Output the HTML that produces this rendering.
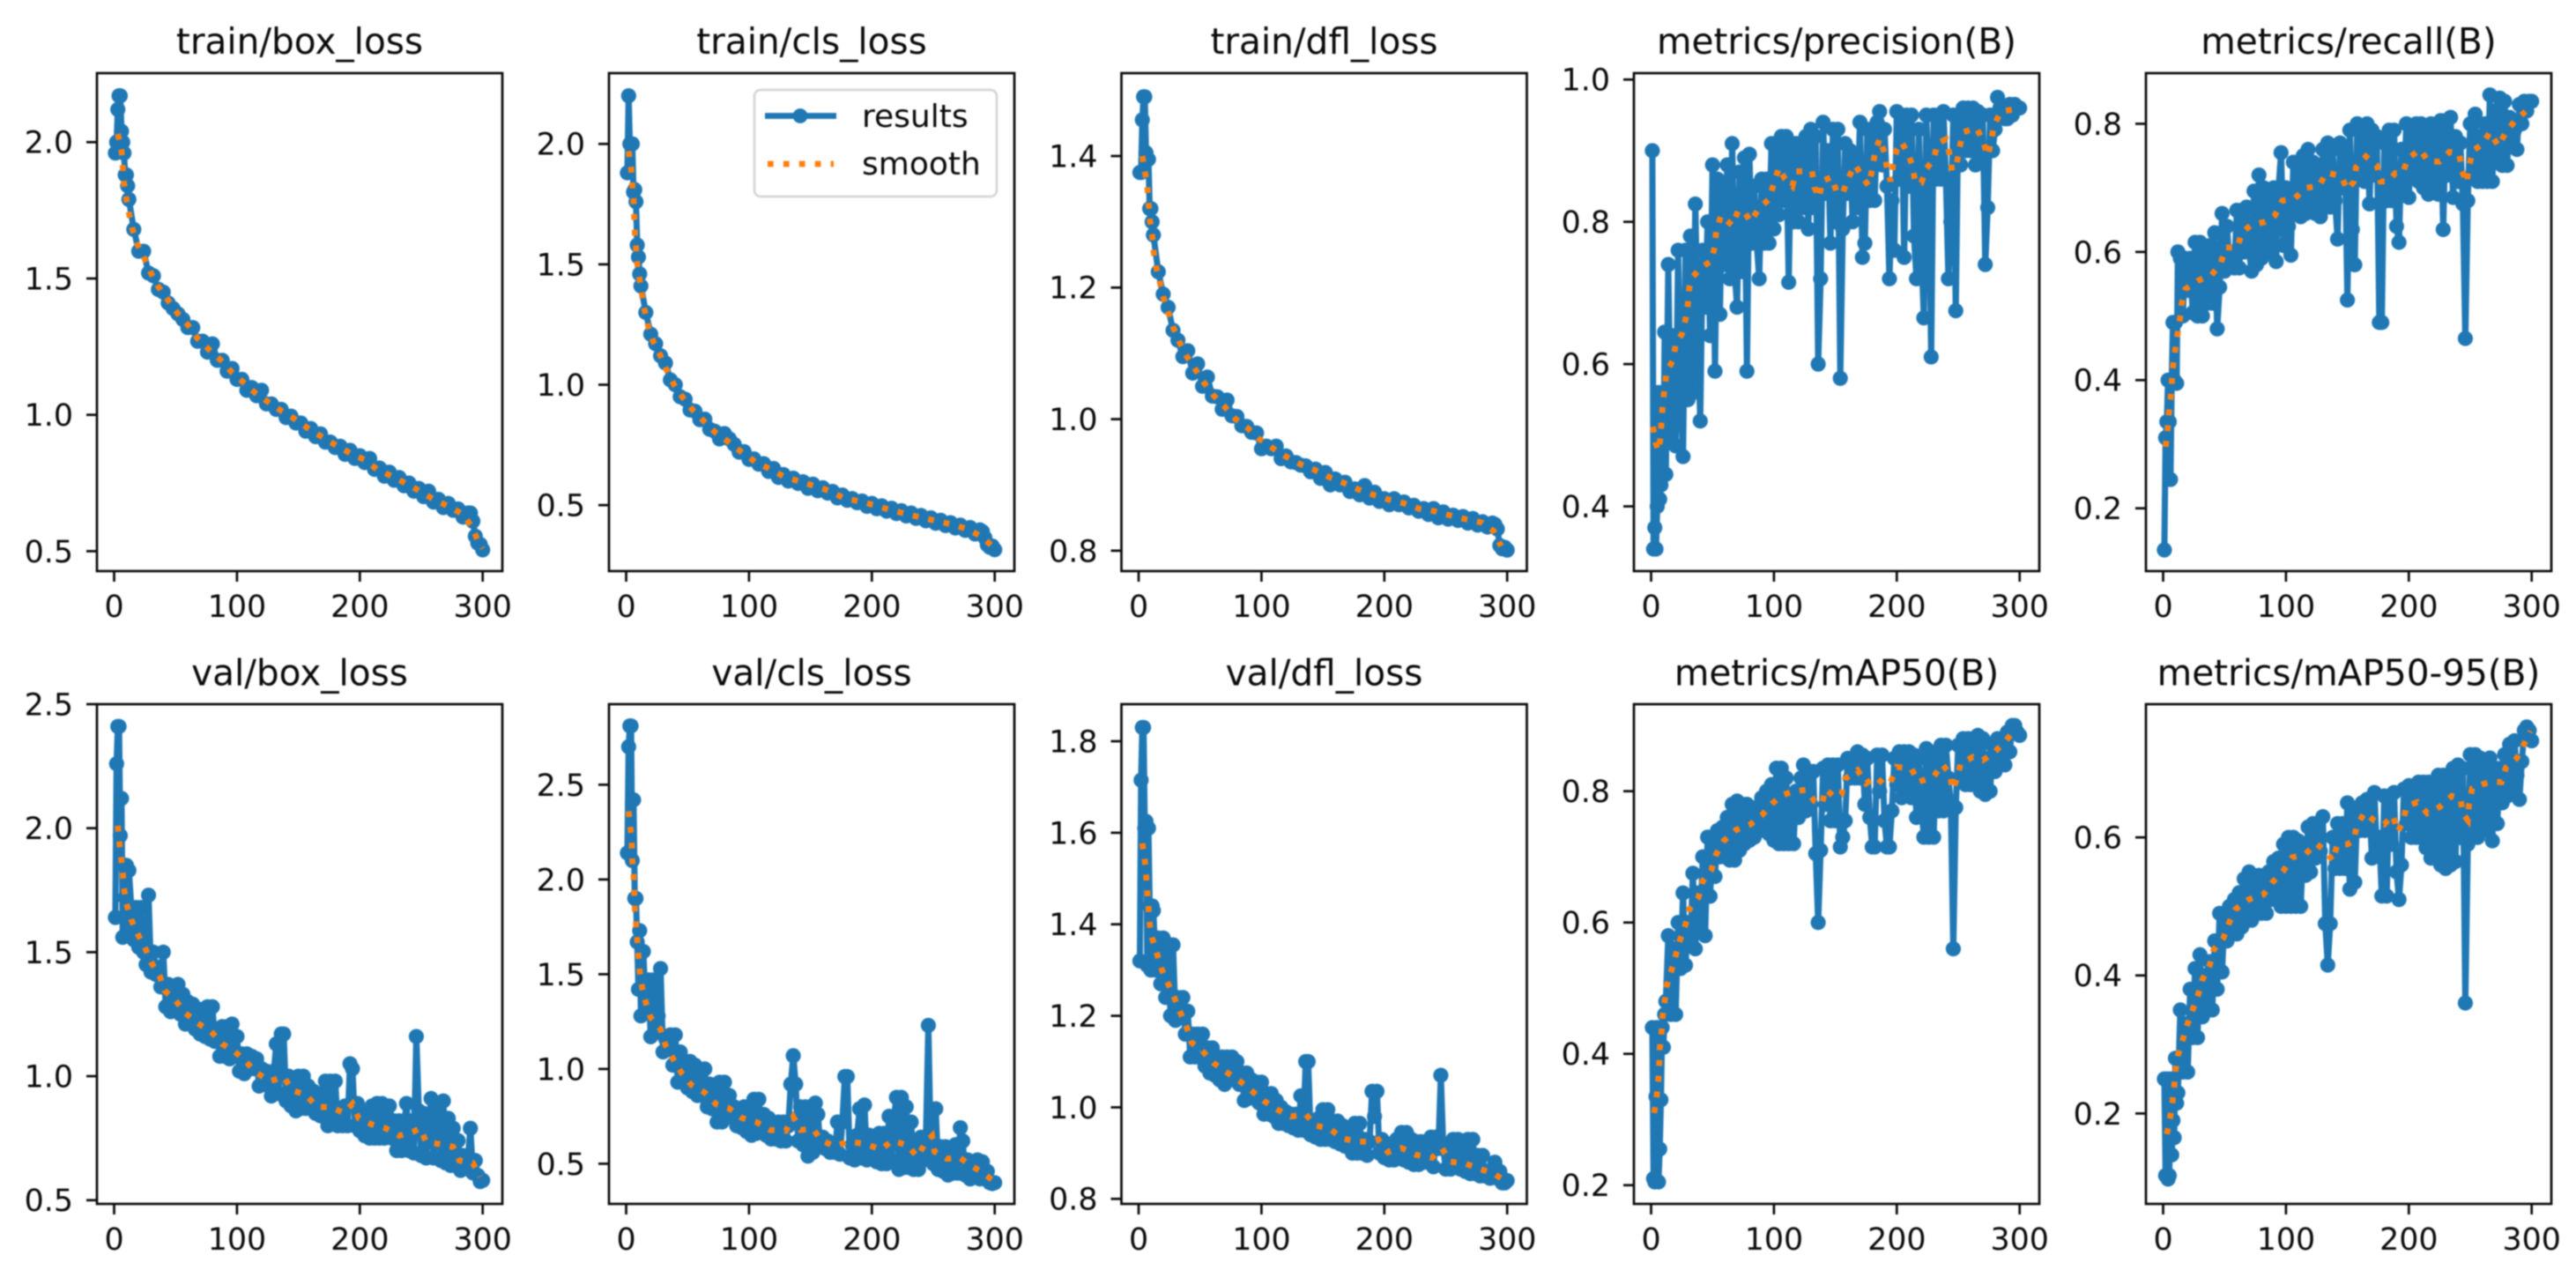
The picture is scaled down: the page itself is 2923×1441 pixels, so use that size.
<!DOCTYPE html>
<html lang="en">
<head>
<meta charset="utf-8">
<title>Training results</title>
<style>
html,body{margin:0;padding:0;background:#fff;}
#figure{display:block;width:2923px;height:1441px;background:#fff;filter:blur(0.7px);}
text{font-family:"DejaVu Sans","Liberation Sans",sans-serif;fill:#0a0a0a;}
</style>
</head>
<body>
<svg id="figure" xmlns="http://www.w3.org/2000/svg" width="2923" height="1441" viewBox="0 0 2923 1441"></svg>
<script>
const trainEpochs = [1,2,3,4,5,6,7,8,9,10,11,12,
16,20,24,28,32,36,40,44,48,52,
56,60,64,68,72,76,80,84,88,92,
96,100,104,108,112,116,120,124,128,132,
136,140,144,148,152,156,160,164,168,172,
176,180,184,188,192,196,200,204,208,212,
216,220,224,228,232,236,240,244,248,252,
256,260,264,268,272,276,280,284,288,
290,292,294,296,298,300];

const denseEpochs = [1,2,3,4,5,6,7,8,9,10,11,12,
14,16,18,20,22,24,26,28,30,32,
34,36,38,40,42,44,46,48,50,52,
54,56,58,60,62,64,66,68,70,72,
74,76,78,80,82,84,86,88,90,92,
94,96,98,100,102,104,106,108,110,112,
114,116,118,120,122,124,126,128,130,132,
134,136,138,140,142,144,146,148,150,152,
154,156,158,160,162,164,166,168,170,172,
174,176,178,180,182,184,186,188,190,192,
194,196,198,200,202,204,206,208,210,212,
214,216,218,220,222,224,226,228,230,232,
234,236,238,240,242,244,246,248,250,252,
254,256,258,260,262,264,266,268,270,272,
274,276,278,280,282,284,286,288,290,292,
294,296,298,300];

const xTickValues = [0,100,200,300];

/* train/box_loss */
const trainBoxResults = [1.96,2.00,2.12,2.17,2.17,2.04,2.00,1.96,1.88,1.88,1.84,1.79,
1.68,1.60,1.60,1.52,1.51,1.46,1.45,1.41,1.39,1.37,
1.35,1.32,1.32,1.27,1.27,1.23,1.26,1.20,1.20,1.16,
1.17,1.13,1.13,1.09,1.10,1.07,1.09,1.04,1.04,1.02,
1.02,.99,.995,.97,.97,.94,.95,.92,.93,.90,
.90,.88,.885,.855,.87,.84,.85,.825,.84,.80,
.805,.775,.79,.76,.77,.74,.75,.72,.73,.70,
.72,.68,.69,.66,.675,.65,.655,.625,.64,
.64,.61,.555,.53,.525,.505];
const trainBoxSmoothEpochs = [3,6,7,8,10,12,15,19,25,30,36,44,52,60,68,77,87,96,105,115,126,136,147,158,169,180,192,204,214,226,237,249,260,272,284,291,296,300];
const trainBoxSmooth = [2.03,1.97,1.91,1.85,1.79,1.74,1.68,1.625,1.57,1.52,1.47,1.42,1.37,1.33,1.28,1.24,1.20,1.155,1.12,1.08,1.045,1.015,.985,.95,.92,.89,.86,.835,.80,.775,.75,.72,.69,.665,.635,.59,.54,.51];
const trainBoxTicks = [0.5,1.0,1.5,2.0];
const trainBoxRange = [0.427,2.253];

/* train/cls_loss */
const trainClsResults = [1.88,2.20,2.00,2.00,2.00,1.80,1.81,1.76,1.58,1.53,1.46,1.41,
1.30,1.21,1.17,1.12,1.09,1.02,1.00,.95,.94,.895,
.89,.855,.857,.815,.807,.775,.797,.775,.752,.72,
.722,.69,.692,.67,.672,.64,.652,.615,.627,.60,
.612,.59,.597,.57,.587,.56,.572,.55,.557,.53,
.542,.52,.527,.51,.517,.495,.507,.485,.497,.475,
.487,.465,.477,.455,.467,.445,.457,.435,.447,.425,
.437,.415,.427,.405,.417,.395,.407,.38,.397,
.39,.365,.335,.325,.33,.315];
const trainClsSmoothEpochs = [2,4,5,6,6.5,7,8,9,11,13,15,18,22,28,33,39,47,55,64,73,84,94,105,117,128,140,153,165,177,190,202,215,227,239,252,265,278,289,298];
const trainClsSmooth = [1.97,1.90,1.83,1.77,1.70,1.635,1.57,1.50,1.435,1.37,1.31,1.24,1.18,1.12,1.06,1.0,.94,.89,.845,.80,.76,.72,.68,.65,.62,.60,.58,.56,.53,.515,.50,.48,.465,.45,.435,.42,.40,.37,.33];
const trainClsTicks = [0.5,1.0,1.5,2.0];
const trainClsRange = [0.226,2.294];

/* train/dfl_loss */
const trainDflResults = [1.375,1.375,1.455,1.49,1.49,1.405,1.395,1.395,1.32,1.32,1.30,1.28,
1.224,1.19,1.17,1.135,1.12,1.095,1.104,1.07,1.084,1.05,
1.064,1.035,1.034,1.015,1.029,1.005,1.004,.99,.989,.98,
.979,.955,.959,.955,.959,.94,.944,.935,.934,.93,
.929,.92,.924,.91,.919,.90,.909,.90,.904,.89,
.894,.885,.899,.88,.889,.875,.879,.87,.879,.87,
.874,.865,.869,.86,.864,.855,.864,.85,.859,.848,
.854,.846,.852,.842,.849,.839,.844,.836,.842,
.84,.833,.808,.803,.805,.801];
const trainDflSmoothEpochs = [3,5,7,8,9,11,12,14,17,20,24,28,33,39,46,53,61,70,79,89,98,109,120,131,143,155,167,179,191,203,216,228,241,253,266,279,289,295];
const trainDflSmooth = [1.40,1.378,1.355,1.33,1.305,1.28,1.257,1.233,1.21,1.186,1.163,1.14,1.118,1.096,1.076,1.056,1.036,1.019,1.0,.986,.97,.956,.943,.932,.923,.912,.903,.893,.885,.878,.872,.864,.86,.854,.848,.843,.83,.807];
const trainDflTicks = [0.8,1.0,1.2,1.4];
const trainDflRange = [0.769,1.526];

/* metrics/precision(B) */
const precisionResults = [.90,.34,.37,.34,.40,.56,.41,.43,.56,.445,.645,.445,
.74,.50,.64,.485,.76,.56,.47,.76,.55,.78,
.56,.825,.64,.52,.76,.68,.80,.64,.88,.59,
.86,.67,.85,.74,.88,.72,.91,.73,.68,.87,
.73,.89,.59,.895,.77,.85,.77,.72,.86,.77,
.86,.77,.91,.79,.90,.81,.92,.83,.92,.715,
.91,.80,.91,.80,.90,.82,.92,.79,.93,.82,
.92,.60,.72,.94,.84,.90,.77,.93,.80,.93,
.58,.79,.91,.84,.90,.80,.89,.82,.94,.75,
.77,.93,.83,.92,.83,.94,.955,.88,.93,.85,
.72,.83,.76,.955,.86,.95,.75,.95,.85,.95,
.78,.72,.93,.76,.665,.95,.86,.61,.95,.86,
.95,.86,.955,.86,.72,.80,.95,.675,.95,.88,
.96,.90,.96,.90,.96,.88,.955,.89,.95,.74,
.82,.95,.90,.93,.975,.96,.96,.945,.945,.965,
.95,.965,.96,.96];
const precisionSmoothEpochs = [1.5,3.5,6,8,8.5,9.6,11,12.6,18,20,25,28,30,31,34,41,49,52,53,57,66,71,76,81,87,96,100,104,109,115,118,131,133,137,139,147,151,156,160,166,172,177,180,182,186,190,192,195,197,200,204,209,213,215,220,224,230,233,240,243,245,249,251,254,265,270,274,277,279,285,298];
const precisionSmooth = [.512,.49,.478,.50,.523,.545,.567,.589,.606,.628,.642,.663,.685,.707,.723,.736,.745,.766,.788,.809,.795,.816,.814,.80,.817,.832,.854,.876,.86,.85,.871,.871,.848,.834,.857,.863,.842,.84,.86,.88,.863,.851,.873,.895,.917,.897,.875,.857,.88,.902,.912,.896,.878,.855,.855,.875,.887,.91,.916,.895,.872,.883,.904,.926,.932,.914,.893,.914,.936,.955,.959];
const precisionTicks = [0.4,0.6,0.8,1.0];
const precisionRange = [0.309,1.009];

/* metrics/recall(B) */
const recallResults = [.135,.31,.335,.40,.335,.245,.40,.49,.40,.49,.395,.60,
.59,.50,.59,.54,.59,.505,.615,.50,.615,.50,
.60,.52,.61,.52,.63,.48,.545,.66,.57,.64,
.58,.60,.575,.665,.575,.665,.60,.67,.60,.57,
.695,.58,.72,.59,.70,.61,.68,.60,.70,.585,
.70,.755,.61,.70,.64,.595,.74,.66,.74,.655,
.75,.66,.76,.67,.74,.66,.73,.655,.76,.67,
.77,.67,.76,.68,.62,.77,.70,.76,.525,.79,
.635,.58,.80,.72,.785,.71,.80,.675,.79,.72,
.78,.49,.49,.77,.68,.79,.68,.79,.64,.615,
.76,.70,.80,.685,.78,.72,.80,.71,.80,.70,
.78,.69,.80,.70,.79,.69,.805,.635,.805,.72,
.81,.685,.78,.71,.77,.675,.465,.68,.80,.72,
.815,.71,.78,.71,.80,.71,.845,.71,.82,.75,
.84,.735,.835,.735,.81,.775,.79,.76,.83,.80,
.835,.82,.835,.835];
const recallSmoothEpochs = [2,3.5,4.5,6,7,8,9.6,11.5,13.6,15,18,28,39.5,47,51,60.5,64,71.5,83,91,97,107.5,116,127,133,145,150,155,157,165,174,177,183,189,195,199,209,216,225,233,241,243,247,249,252,260,266,273,279,287,295];
const recallSmooth = [.296,.32,.345,.37,.395,.42,.444,.469,.494,.518,.542,.555,.564,.583,.607,.607,.63,.642,.647,.657,.68,.684,.70,.703,.724,.718,.697,.709,.732,.749,.735,.71,.71,.723,.723,.745,.76,.741,.741,.756,.754,.728,.708,.733,.758,.768,.787,.765,.787,.806,.819];
const recallTicks = [0.2,0.4,0.6,0.8];
const recallRange = [0.102,0.879];

/* val/box_loss */
const valBoxResults = [1.64,2.26,2.41,2.41,1.97,2.12,1.56,1.85,1.72,1.85,1.60,1.83,
1.68,1.55,1.68,1.52,1.68,1.50,1.45,1.73,1.42,1.50,
1.41,1.44,1.36,1.50,1.28,1.37,1.26,1.36,1.30,1.37,
1.25,1.33,1.21,1.30,1.23,1.29,1.19,1.24,1.17,1.27,
1.16,1.28,1.15,1.28,1.14,1.19,1.08,1.20,1.08,1.20,
1.07,1.21,1.08,1.16,1.02,1.09,1.01,1.09,1.03,1.08,
1.03,1.07,.96,1.03,.97,1.02,.96,.92,1.02,1.13,
.93,1.17,1.17,.90,1.00,.88,.98,.86,1.00,.87,
1.00,.87,.96,.90,.94,.85,.93,.84,.92,.98,
.80,.98,.82,.98,.80,.86,.80,.88,.80,1.05,
1.03,.80,.89,.78,.82,.76,.85,.75,.88,.75,
.89,.75,.89,.75,.84,.88,.75,.82,.70,.82,
.70,.80,.89,.70,.82,.69,1.16,.86,.68,.85,
.67,.79,.91,.67,.79,.88,.66,.90,.65,.83,
.64,.79,.64,.74,.62,.68,.63,.67,.79,.61,
.66,.60,.575,.58];
const valBoxSmoothEpochs = [3,4,5.5,7,8,10,14,19,25,30,37,41,50,58,68,79,88,98,107,116,127,138,145,156,165,177,187,194,199,210,221,232,243,249,254,265,276,281,292,298];
const valBoxSmooth = [2.01,1.95,1.89,1.82,1.76,1.695,1.63,1.575,1.52,1.46,1.405,1.345,1.305,1.255,1.213,1.18,1.13,1.10,1.06,1.013,.98,.997,.943,.925,.877,.874,.852,.888,.83,.805,.79,.76,.775,.79,.735,.726,.715,.66,.65,.594];
const valBoxTicks = [0.5,1.0,1.5,2.0,2.5];
const valBoxRange = [0.485,2.5];

/* val/cls_loss */
const valClsResults = [2.14,2.70,2.81,2.81,2.10,2.42,1.90,1.90,1.67,1.42,1.73,1.28,
1.62,1.30,1.47,1.17,1.47,1.20,1.28,1.53,1.09,1.16,
1.12,1.18,1.02,1.18,.93,1.09,.94,1.04,.90,1.04,
.88,1.02,.86,.99,.86,1.00,.80,.92,.79,.90,
.72,.93,.72,.93,.76,.86,.75,.80,.70,.79,
.69,.80,.67,.80,.65,.84,.66,.84,.67,.76,
.65,.74,.63,.70,.63,.72,.62,.72,.62,.70,
.92,1.07,.92,.62,.80,.60,.80,.54,.80,.56,
.82,.76,.60,.64,.58,.62,.56,.60,.56,.72,
.55,.72,.96,.96,.53,.60,.52,.65,.79,.53,
.81,.52,.65,.53,.62,.51,.66,.50,.66,.50,
.75,.52,.75,.85,.47,.85,.48,.80,.48,.72,
.47,.58,.47,.64,.52,.63,1.23,.55,.50,.79,
.47,.59,.46,.59,.44,.58,.45,.60,.45,.69,
.62,.44,.52,.42,.50,.43,.52,.42,.51,.42,
.46,.40,.395,.40];
const valClsSmoothEpochs = [2,3.5,4.5,5,6,6.5,7,8,9,10,11,13,16,20,28,32,38.5,45,53,64,73,83,94,106,117,130,136,142,152,159,170,181,189,196,207,217,229,237,243,249,251,261,271,279,289,299];
const valClsSmooth = [2.36,2.275,2.19,2.105,2.02,1.936,1.85,1.77,1.68,1.60,1.515,1.43,1.35,1.27,1.21,1.125,1.05,.98,.916,.875,.815,.796,.742,.72,.678,.674,.747,.678,.684,.622,.592,.618,.61,.603,.575,.622,.597,.537,.603,.646,.564,.526,.534,.498,.457,.41];
const valClsTicks = [0.5,1.0,1.5,2.0,2.5];
const valClsRange = [0.288,2.925];

/* val/dfl_loss */
const valDflResults = [1.32,1.715,1.83,1.83,1.61,1.625,1.31,1.61,1.44,1.30,1.44,1.43,
1.30,1.37,1.27,1.37,1.24,1.33,1.20,1.355,1.19,1.24,
1.21,1.24,1.16,1.21,1.11,1.16,1.11,1.16,1.14,1.16,
1.09,1.13,1.075,1.13,1.07,1.09,1.06,1.11,1.05,1.11,
1.06,1.11,1.06,1.10,1.05,1.075,1.015,1.075,1.02,1.06,
1.02,1.055,1.01,1.055,.985,1.03,.985,1.03,.98,1.015,
.965,1.00,.965,.99,.96,.985,.955,.985,.95,1.025,
.95,1.10,1.10,.94,.97,.935,.975,.93,.995,.93,
.995,.93,.97,.925,.97,.92,.96,.915,.95,.955,
.90,.965,.90,.965,.90,.93,.895,.925,1.035,.98,
1.035,.90,.93,.89,.92,.885,.915,.885,.93,.89,
.945,.885,.945,.88,.93,.875,.925,.875,.925,.88,
.90,.88,.935,.87,.935,.91,1.07,.91,.865,.91,
.865,.93,.87,.93,.865,.915,.86,.93,.855,.93,
.855,.895,.85,.895,.85,.86,.845,.865,.88,.845,
.86,.835,.835,.84];
const valDflSmoothEpochs = [3,5,6,7,8,9,11,15,19,24,29,34,39,43,53,61,72,83,93,102,113,124,136,144,155,166,178,188,195,203,214,226,239,247,254,266,278,289,296];
const valDflSmooth = [1.577,1.54,1.51,1.473,1.44,1.40,1.37,1.335,1.30,1.27,1.24,1.207,1.176,1.142,1.12,1.097,1.076,1.056,1.034,1.014,.995,.98,.985,.96,.954,.932,.925,.925,.93,.902,.911,.896,.89,.91,.881,.877,.865,.856,.843];
const valDflTicks = [0.8,1.0,1.2,1.4,1.6,1.8];
const valDflRange = [0.789,1.881];

/* metrics/mAP50(B) */
const map50Results = [.44,.21,.205,.335,.44,.205,.255,.33,.44,.41,.46,.48,
.58,.46,.56,.46,.60,.53,.645,.535,.60,.565,
.675,.56,.645,.585,.70,.58,.73,.64,.72,.67,
.74,.70,.745,.70,.76,.695,.78,.695,.785,.71,
.78,.72,.78,.725,.775,.73,.77,.74,.79,.745,
.80,.735,.81,.725,.835,.72,.835,.72,.82,.72,
.79,.72,.80,.76,.82,.84,.77,.83,.78,.83,
.705,.60,.71,.835,.78,.84,.755,.84,.755,.84,
.715,.73,.755,.85,.82,.85,.82,.86,.82,.855,
.78,.85,.76,.715,.715,.855,.80,.855,.755,.715,
.715,.77,.85,.81,.86,.79,.86,.81,.86,.79,
.855,.76,.85,.78,.73,.865,.73,.85,.73,.86,
.77,.87,.77,.87,.82,.78,.56,.775,.87,.82,
.88,.81,.88,.81,.88,.82,.885,.80,.88,.795,
.85,.80,.87,.83,.88,.85,.88,.84,.89,.86,
.90,.90,.89,.885];
const map50SmoothEpochs = [2.5,4.4,5.8,6.6,7,8.5,9.3,11,12.6,16.5,20,23.6,28,31,38.5,42,49,53,59,69,80.6,90,99,108,117,126,133,139,142,150,155,158,168,175,183,190,195,200,212,217.5,230,237,243,245.5,249,252,262,270,278,287,295];
const map50Smooth = [.31,.334,.358,.383,.407,.432,.456,.48,.503,.527,.55,.574,.597,.62,.638,.663,.68,.704,.724,.741,.749,.763,.782,.795,.80,.802,.785,.78,.803,.79,.795,.819,.832,.812,.822,.809,.814,.837,.834,.814,.822,.841,.827,.802,.819,.843,.852,.847,.857,.873,.891];
const map50Ticks = [0.2,0.4,0.6,0.8];
const map50Range = [0.1715,0.9325];

/* metrics/mAP50-95(B) */
const map5095Results = [.25,.11,.25,.105,.11,.25,.14,.19,.165,.28,.215,.23,
.35,.26,.33,.26,.38,.31,.41,.31,.43,.34,
.40,.35,.42,.35,.45,.38,.49,.405,.49,.45,
.50,.46,.51,.46,.52,.47,.54,.48,.55,.48,
.54,.49,.545,.49,.54,.49,.55,.51,.565,.52,
.57,.50,.59,.50,.60,.50,.60,.50,.595,.50,
.59,.545,.615,.55,.62,.57,.61,.58,.63,.475,
.415,.475,.60,.555,.62,.555,.62,.555,.65,.525,
.63,.535,.64,.61,.65,.61,.655,.64,.57,.665,
.58,.60,.515,.66,.515,.66,.59,.665,.55,.51,
.56,.67,.62,.675,.60,.675,.60,.68,.60,.68,
.585,.68,.57,.68,.57,.69,.56,.69,.555,.69,
.56,.70,.565,.705,.60,.70,.36,.59,.72,.61,
.72,.60,.715,.61,.71,.62,.715,.595,.70,.62,
.70,.65,.72,.66,.735,.67,.74,.69,.655,.71,
.755,.76,.755,.74];
const map5095SmoothEpochs = [3,5.6,7.5,9,10,12,16,19.5,24,28.5,32,38,41,49,53.6,59,69.6,81.6,89,98,105,116,124.5,133,138,141.6,150,155,157.6,164,172,180,187,191,195.5,198,207,215,225,235,242,244,248,249,251.5,260,268,275.5,279,288,294,299];
const map5095Smooth = [.17,.193,.215,.238,.261,.284,.307,.328,.35,.372,.394,.415,.437,.454,.476,.496,.51,.517,.535,.552,.571,.576,.591,.579,.566,.589,.59,.595,.617,.636,.624,.619,.632,.608,.624,.645,.651,.635,.644,.66,.657,.634,.625,.648,.671,.677,.681,.68,.701,.715,.736,.754];
const map5095Ticks = [0.2,0.4,0.6];
const map5095Range = [0.069,0.793];

const xDomain = [-14,316];
const columnLefts = [110,691,1272.5,1854,2435];
const panelWidth = 460;
const rowTops = [83,799];
const rowBottoms = [648,1366];

const BLUE = '#1f77b4';
const ORANGE = '#ff7f0e';
const INK = '#0a0a0a';
const NS = 'http://www.w3.org/2000/svg';
const svg = document.getElementById('figure');

function make(parent, tag, attrs, text) {
  const el = document.createElementNS(NS, tag);
  for (const k in attrs) el.setAttribute(k, attrs[k]);
  if (text !== undefined) el.textContent = text;
  parent.appendChild(el);
  return el;
}

function drawChart(title, slug, col, row, epochs, results, smoothEpochs, smooth, ticks, range) {
  const left = columnLefts[col];
  const right = left + panelWidth;
  const top = rowTops[row];
  const bottom = rowBottoms[row];
  const xAxis = v => left + (v - xDomain[0]) / (xDomain[1] - xDomain[0]) * panelWidth;
  const yAxis = v => bottom - (v - range[0]) / (range[1] - range[0]) * (bottom - top);

  const g = make(svg, 'g', {});
  
  

  const n = Math.min(epochs.length, results.length);
  let d = '';
  for (let i = 0; i < n; i++) d += (i ? 'L' : 'M') + xAxis(epochs[i]).toFixed(2) + ' ' + yAxis(results[i]).toFixed(2);
  const line = make(g, 'path', {d: d, fill: 'none', stroke: BLUE, 'stroke-width': 7, 'stroke-linejoin': 'round'});
  
  

  for (let i = 0; i < n; i++) {
    const c = make(g, 'circle', {cx: xAxis(epochs[i]).toFixed(2), cy: yAxis(results[i]).toFixed(2), r: 8.6, fill: BLUE});
    
    
  }

  let sd = '';
  const m = Math.min(smoothEpochs.length, smooth.length);
  for (let i = 0; i < m; i++) sd += (i ? 'L' : 'M') + xAxis(smoothEpochs[i]).toFixed(2) + ' ' + yAxis(smooth[i]).toFixed(2);
  const sl = make(g, 'path', {d: sd, fill: 'none', stroke: ORANGE, 'stroke-width': 6.7, 'stroke-dasharray': '6.7 11.2'});
  
  

  const frame = make(g, 'rect', {x: left, y: top, width: panelWidth, height: bottom - top, fill: 'none', stroke: INK, 'stroke-width': 2.7});
  
  

  const titleEl = make(g, 'text', {x: (left + right) / 2, y: row === 0 ? 61 : 777.5, 'text-anchor': 'middle', 'font-size': 40.6}, title);
  
  

  xTickValues.forEach(v => {
    const px = xAxis(v);
    const t = make(g, 'line', {x1: px, x2: px, y1: bottom, y2: bottom + 12, stroke: INK, 'stroke-width': 2.7});
    
    
    const lb = make(g, 'text', {x: px, y: bottom + 52, 'text-anchor': 'middle', 'font-size': 34.8}, String(v));
    
    
  });

  ticks.forEach(v => {
    const py = yAxis(v);
    const t = make(g, 'line', {x1: left - 12, x2: left, y1: py, y2: py, stroke: INK, 'stroke-width': 2.7});
    
    
    const lb = make(g, 'text', {x: left - 27, y: py + 12.4, 'text-anchor': 'end', 'font-size': 34.8}, v.toFixed(1));
    
    
  });
}

drawChart('train/box_loss', 'train-box-loss', 0, 0, trainEpochs, trainBoxResults, trainBoxSmoothEpochs, trainBoxSmooth, trainBoxTicks, trainBoxRange);
drawChart('train/cls_loss', 'train-cls-loss', 1, 0, trainEpochs, trainClsResults, trainClsSmoothEpochs, trainClsSmooth, trainClsTicks, trainClsRange);
drawChart('train/dfl_loss', 'train-dfl-loss', 2, 0, trainEpochs, trainDflResults, trainDflSmoothEpochs, trainDflSmooth, trainDflTicks, trainDflRange);
drawChart('metrics/precision(B)', 'metrics-precision', 3, 0, denseEpochs, precisionResults, precisionSmoothEpochs, precisionSmooth, precisionTicks, precisionRange);
drawChart('metrics/recall(B)', 'metrics-recall', 4, 0, denseEpochs, recallResults, recallSmoothEpochs, recallSmooth, recallTicks, recallRange);
drawChart('val/box_loss', 'val-box-loss', 0, 1, denseEpochs, valBoxResults, valBoxSmoothEpochs, valBoxSmooth, valBoxTicks, valBoxRange);
drawChart('val/cls_loss', 'val-cls-loss', 1, 1, denseEpochs, valClsResults, valClsSmoothEpochs, valClsSmooth, valClsTicks, valClsRange);
drawChart('val/dfl_loss', 'val-dfl-loss', 2, 1, denseEpochs, valDflResults, valDflSmoothEpochs, valDflSmooth, valDflTicks, valDflRange);
drawChart('metrics/mAP50(B)', 'metrics-map50', 3, 1, denseEpochs, map50Results, map50SmoothEpochs, map50Smooth, map50Ticks, map50Range);
drawChart('metrics/mAP50-95(B)', 'metrics-map50-95', 4, 1, denseEpochs, map5095Results, map5095SmoothEpochs, map5095Smooth, map5095Ticks, map5095Range);

/* legend in train/cls_loss */
const legend = make(svg, 'g', {});


const legendBox = make(legend, 'rect', {x: 856, y: 102, width: 275, height: 121, rx: 7, ry: 7, fill: '#fff', 'fill-opacity': 0.8, stroke: '#d6d6d6', 'stroke-width': 2.7});


const legendLine = make(legend, 'line', {x1: 868, x2: 949, y1: 131.5, y2: 131.5, stroke: BLUE, 'stroke-width': 6.7});


const legendDot = make(legend, 'circle', {cx: 908, cy: 131.5, r: 8.4, fill: BLUE});


const legendResults = make(legend, 'text', {x: 978, y: 144, 'font-size': 36}, 'results');


const legendSmoothLine = make(legend, 'line', {x1: 871, x2: 946, y1: 186, y2: 186, stroke: ORANGE, 'stroke-width': 6.7, 'stroke-dasharray': '6.7 11.2'});


const legendSmooth = make(legend, 'text', {x: 978, y: 198, 'font-size': 36}, 'smooth');


</script>
</body>
</html>
